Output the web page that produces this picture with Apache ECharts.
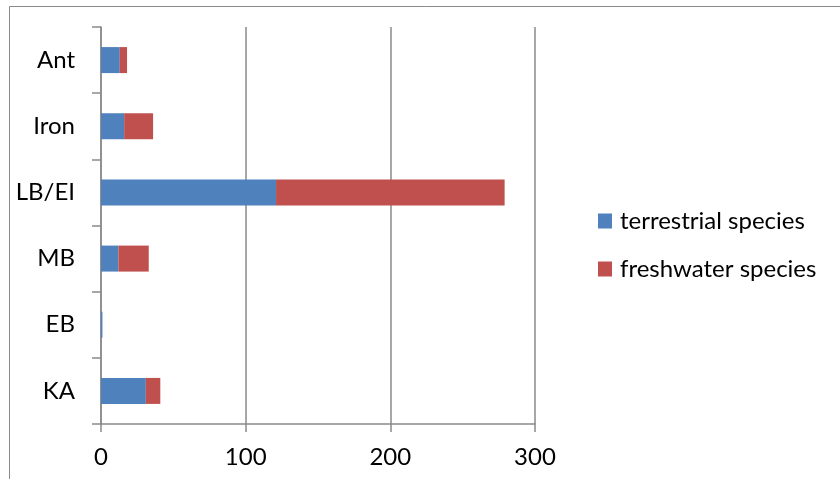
<!DOCTYPE html>
<html>
<head>
<meta charset="utf-8">
<script src="https://cdn.jsdelivr.net/npm/echarts@6/dist/echarts.min.js"></script>
<style>
  html, body { margin: 0; padding: 0; background: #fff; }
  #chart { width: 840px; height: 479px; }
</style>
</head>
<body>
<div id="chart"></div>
<script>
// Periods, listed bottom to top along the category axis
const periods = ['KA', 'EB', 'MB', 'LB/EI', 'Iron', 'Ant'];
// Species counts per period
const terrestrialSpecies = [31, 1, 12, 121, 16, 13];
const freshwaterSpecies = [10, 0, 21, 158, 20, 5];
// Value axis ticks
const valueTicks = [0, 100, 200, 300];

const FONT = 'Lato, "Open Sans", sans-serif';
const GRAY = '#8a8a8a';
const FS = 24;

const chart = echarts.init(document.getElementById('chart'), null, { renderer: 'canvas' });

chart.setOption({
  animation: false,
  backgroundColor: '#fff',
  textStyle: { fontFamily: FONT },
  graphic: [{
    type: 'rect',
    shape: { x: 9.5, y: 6.5, width: 840, height: 480 },
    style: { fill: 'none', stroke: GRAY, lineWidth: 1 },
    silent: true
  }],
  grid: { left: 101, right: 305, top: 27, bottom: 55, containLabel: false },
  legend: {
    orient: 'vertical',
    left: 598,
    top: 208,
    padding: 0,
    itemWidth: 14,
    itemHeight: 15,
    itemGap: 22,
    icon: 'rect',
    textStyle: { fontFamily: FONT, fontSize: FS, color: '#000', lineHeight: 26, padding: [0, 0, 0, 3] },
    data: ['terrestrial species', 'freshwater species']
  },
  xAxis: {
    type: 'value',
    min: valueTicks[0],
    max: valueTicks[valueTicks.length - 1],
    interval: valueTicks[1] - valueTicks[0],
    axisLine: { show: true, lineStyle: { color: GRAY, width: 1.5 } },
    axisTick: { show: true, length: 8, lineStyle: { color: GRAY, width: 1.5 } },
    splitLine: { show: true, lineStyle: { color: GRAY, width: 1.5 } },
    axisLabel: { fontFamily: FONT, fontSize: FS, color: '#000', margin: 21 }
  },
  yAxis: {
    type: 'category',
    data: periods,
    axisLine: { show: true, lineStyle: { color: GRAY, width: 1.5 } },
    axisTick: { show: true, length: 9, alignWithLabel: false, lineStyle: { color: GRAY, width: 1.5 } },
    splitLine: { show: false },
    axisLabel: { fontFamily: FONT, fontSize: FS, color: '#000', margin: 26 }
  },
  series: [
    {
      name: 'terrestrial species',
      type: 'bar',
      stack: 'species',
      barWidth: 26,
      data: terrestrialSpecies,
      itemStyle: { color: '#4F81BD' }
    },
    {
      name: 'freshwater species',
      type: 'bar',
      stack: 'species',
      barWidth: 26,
      data: freshwaterSpecies,
      itemStyle: { color: '#C0504D' }
    }
  ]
});
</script>
</body>
</html>
